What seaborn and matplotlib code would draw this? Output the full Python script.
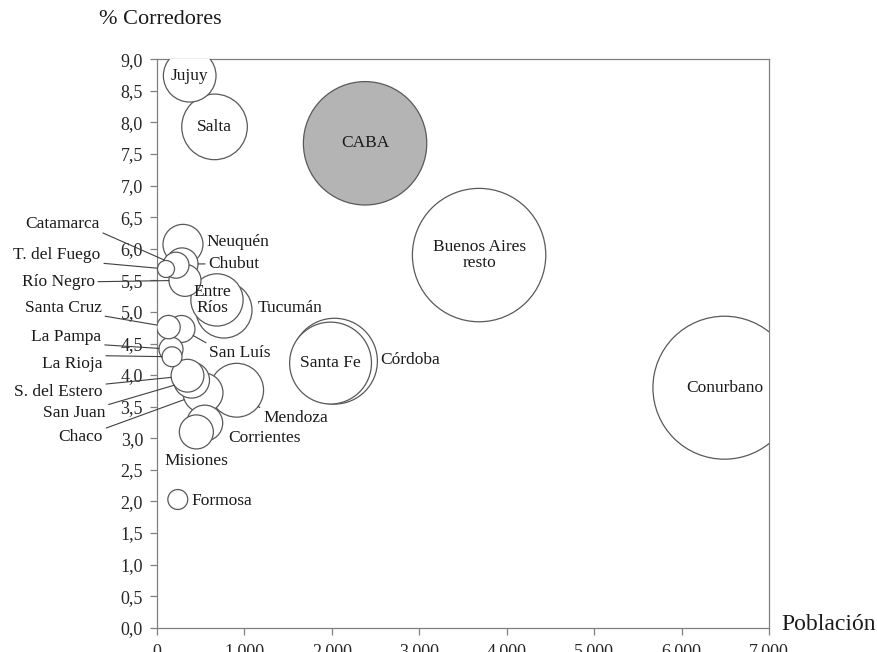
import numpy as np
import pandas as pd
import matplotlib
matplotlib.use("Agg")
import matplotlib.pyplot as plt
from matplotlib.ticker import FuncFormatter, MultipleLocator
import seaborn as sns

# Datos (poblacion en miles, % corredores, tamano de burbuja)
provincias = ["Conurbano", "Buenos Aires\nresto", "CABA", "Córdoba", "Santa Fe",
              "Salta", "Tucumán", "Mendoza", "Entre\nRíos", "Jujuy", "Chaco",
              "Neuquén", "San Juan", "Corrientes", "Misiones", "S. del Estero",
              "Chubut", "Río Negro", "San Luís", "Catamarca", "La Pampa",
              "Santa Cruz", "La Rioja", "Formosa", "T. del Fuego"]
poblacion = [6490, 3684, 2380, 2030, 1985, 658, 766, 911, 686, 374, 526,
             297, 395, 546, 450, 349, 286, 320, 280, 217, 160, 132, 172, 238, 103]
pct_corredores = [3.80, 5.90, 7.67, 4.22, 4.19, 7.93, 5.03, 3.76, 5.19, 8.74, 3.72,
                  6.07, 3.92, 3.24, 3.10, 3.99, 5.76, 5.50, 4.73, 5.74, 4.41,
                  4.76, 4.29, 2.03, 5.68]
corredores = [247, 215, 184, 89, 81, 52, 38, 35, 33, 33.5, 19.3,
              19.3, 15.6, 15.6, 14, 13, 12.4, 12.4, 8.8, 8.2, 7,
              6.6, 4.8, 4.8, 3.5]

df = pd.DataFrame({"provincia": provincias, "poblacion": poblacion,
                   "pct": pct_corredores, "corredores": corredores})
df["grupo"] = np.where(df["provincia"] == "CABA", "caba", "resto")
df = df.sort_values("corredores", ascending=False).reset_index(drop=True)

# puntos^2 por unidad de tamano
BUBBLE_SCALE = 42.9

# posicion de cada etiqueta: (dx, dy) en puntos respecto del centro, alineacion, linea guia
etiquetas = {
    "Conurbano": (0, 0, "center", False),
    "Buenos Aires\nresto": (0, 0, "center", False),
    "CABA": (0, 0, "center", False),
    "Santa Fe": (0, 0, "center", False),
    "Salta": (0, 0, "center", False),
    "Jujuy": (0, 0, "center", False),
    "Entre\nRíos": (-3, 0, "center", False),
    "Córdoba": (33, 1, "left", False),
    "Tucumán": (24, 1.5, "left", False),
    "Neuquén": (17, 1.5, "left", False),
    "Chubut": (19, 0, "left", True),
    "San Luís": (20, -17, "left", True),
    "Mendoza": (19, -20, "left", True),
    "Corrientes": (17, -11, "left", False),
    "Misiones": (0, -21, "center", False),
    "Formosa": (10, -1, "left", False),
    "Catamarca": (-55, 30, "right", True),
    "T. del Fuego": (-47, 10, "right", True),
    "Río Negro": (-65, -1, "right", True),
    "Santa Cruz": (-48, 14, "right", True),
    "La Pampa": (-50, 9, "right", True),
    "La Rioja": (-50, -5, "right", True),
    "S. del Estero": (-61, -12, "right", True),
    "San Juan": (-62, -24, "right", True),
    "Chaco": (-72, -32, "right", True),
}

sns.set_style("white")
plt.rcParams["font.family"] = ["Liberation Serif", "DejaVu Serif"]
plt.rcParams["text.color"] = "#1a1a1a"

fig = plt.figure(figsize=(8.78, 6.52), dpi=100)
ax = fig.add_axes([157 / 878, 24.3 / 652, 612 / 878, 568.4 / 652])

smin, smax = min(corredores), max(corredores)
sns.scatterplot(data=df, x="poblacion", y="pct", size="corredores",
                sizes=(smin * BUBBLE_SCALE, smax * BUBBLE_SCALE), size_norm=(smin, smax),
                hue="grupo", palette={"caba": "#b4b4b4", "resto": "white"},
                edgecolor="#595959", linewidth=0.9, alpha=1, legend=False,
                ax=ax, zorder=3)

for _, row in df.iterrows():
    dx, dy, ha, guia = etiquetas[row["provincia"]]
    r_pt = np.sqrt(row["corredores"] * BUBBLE_SCALE) / 2
    kw = {}
    if guia:
        if ha == "right":
            relpos = (1, 0 if dy > 4 else (1 if dy < -4 else 0.5))
        else:
            relpos = (0, 0.5 if abs(dy) < 4 else 1)
        kw["arrowprops"] = dict(arrowstyle="-", color="#404040", lw=0.8,
                                shrinkA=0, shrinkB=r_pt, relpos=relpos)
    ax.annotate(row["provincia"], xy=(row["poblacion"], row["pct"]),
                xytext=(dx, dy), textcoords="offset points",
                ha=ha, va="center", fontsize=12.5, linespacing=1.0,
                zorder=5, annotation_clip=False, **kw)

ax.set_xlim(0, 7000)
ax.set_ylim(0, 9)
ax.xaxis.set_major_locator(MultipleLocator(1000))
ax.yaxis.set_major_locator(MultipleLocator(0.5))
ax.xaxis.set_major_formatter(FuncFormatter(lambda v, p: f"{v:,.0f}".replace(",", ".")))
ax.yaxis.set_major_formatter(FuncFormatter(lambda v, p: f"{v:.1f}".replace(".", ",")))
ax.tick_params(axis="both", direction="out", length=5, width=0.9, color="#808080",
               labelsize=13, left=True, bottom=True)
ax.tick_params(axis="y", pad=5)
ax.tick_params(axis="x", pad=6.5)
for sp in ax.spines.values():
    sp.set_color("#808080")
    sp.set_linewidth(0.9)
    sp.set_zorder(2)
ax.set_xlabel("")
ax.set_ylabel("")

fig.text(99 / 878, 1 - 20 / 652, "% Corredores", fontsize=16, ha="left", va="center")
fig.text(781 / 878, 1 - 625 / 652, "Población", fontsize=17, ha="left", va="center")

fig.savefig("out.png", dpi=100)
